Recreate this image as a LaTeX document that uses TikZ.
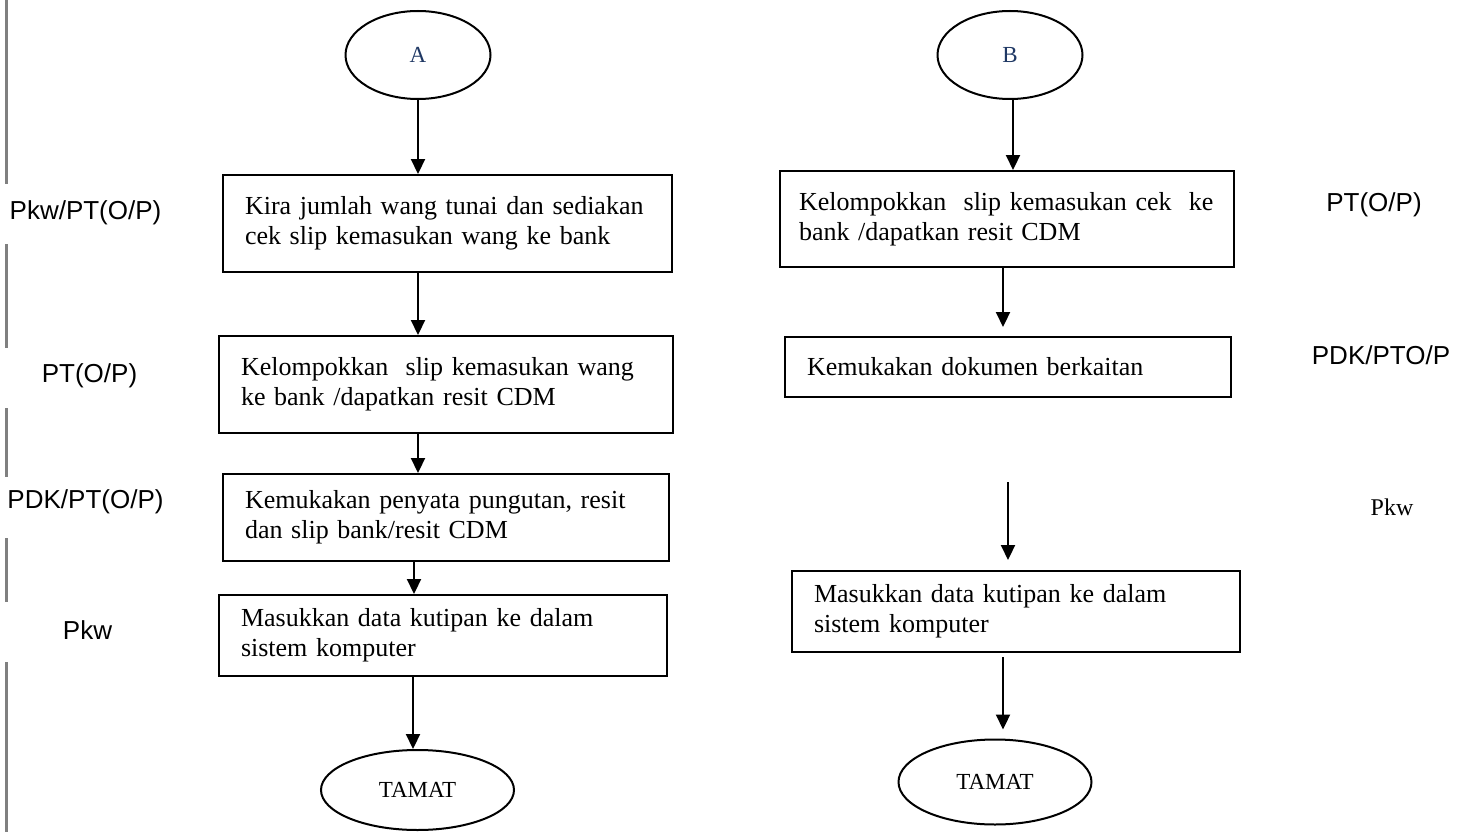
\documentclass[tikz,border=0pt]{standalone}
\usepackage{fontspec}
\setmainfont{Liberation Serif}
\newfontfamily\rolefont{Liberation Sans}
\usetikzlibrary{arrows.meta,shapes.geometric}
\definecolor{sidegray}{RGB}{128,128,128}
\definecolor{letterblue}{RGB}{31,56,100}
\tikzset{
  procbox/.style   = {draw, line width=2pt, rectangle, inner xsep=22pt, inner ysep=0pt, align=left,
                      font=\fontsize{26}{30}\selectfont},
  termoval/.style  = {draw, line width=2pt, ellipse, inner sep=0pt},
  flowarrow/.style = {line width=2.2pt, -{Triangle[width=14pt,length=15pt]}},
  rolelabel/.style = {font=\rolefont\fontsize{26}{30}\selectfont},
  sidebar/.style   = {sidegray, line width=3pt}
}
\begin{document}
\begin{tikzpicture}[x=1pt, y=-1pt]
    \useasboundingbox (0,0) rectangle (1469,832);
    \foreach \ya/\yb in {0/184, 244/348, 408/477, 538/602, 662/832}
        \draw[sidebar] (6.5,\ya) -- (6.5,\yb);

    % lajur A
    \node[termoval, minimum width=145pt, minimum height=88pt, text=letterblue,
          font=\fontsize{23}{27}\selectfont]                        (A)      at (418.0, 55.0) {A};
    \node[procbox, text width=405pt, minimum height=97pt]           (kiraA)  at (447.5,223.5) {Kira jumlah wang tunai dan sediakan\\cek slip kemasukan wang ke bank};
    \node[procbox, text width=410pt, minimum height=97pt]           (kelA)   at (446.0,384.5) {Kelompokkan \ slip kemasukan wang\\ke bank /dapatkan resit CDM};
    \node[procbox, text width=402pt, minimum height=87pt]           (kemA)   at (446.0,517.5) {Kemukakan penyata pungutan, resit\\dan slip bank/resit CDM};
    \node[procbox, text width=404pt, minimum height=81pt]           (masA)   at (443.0,635.5) {Masukkan data kutipan ke dalam\\sistem komputer};
    \node[termoval, minimum width=193pt, minimum height=80pt,
          font=\fontsize{23}{27}\selectfont]                        (tamatA) at (417.5,790.0) {TAMAT};

    \draw[flowarrow] (A) -- (A |- kiraA.north);
    \draw[flowarrow] (kiraA.south -| A) -- (kelA.north -| A);
    \draw[flowarrow] (kelA.south -| A)  -- (kemA.north -| A);
    \draw[flowarrow] ([xshift=-4pt]kemA.south -| A) -- ([xshift=-4pt]masA.north -| A);
    \draw[flowarrow] ([xshift=-5pt]masA.south -| A) -- ([xshift=-5pt]tamatA.north -| A);

    % lajur B
    \node[termoval, minimum width=145pt, minimum height=88pt, text=letterblue,
          font=\fontsize{23}{27}\selectfont]                        (B)      at (1010.0, 55.0) {B};
    \node[procbox, text width=416pt, inner xsep=19pt, minimum height=96pt]
                                                                    (kelB)   at (1007.0,219.0) {Kelompokkan \ slip kemasukan cek \ ke\\bank /dapatkan resit CDM};
    \node[procbox, text width=402pt, minimum height=60pt]           (kemB)   at (1008.0,367.0) {Kemukakan dokumen berkaitan};
    \node[procbox, text width=404pt, minimum height=81pt]           (masB)   at (1016.0,611.5) {Masukkan data kutipan ke dalam\\sistem komputer};
    \node[termoval, minimum width=193pt, minimum height=85pt,
          font=\fontsize{23}{27}\selectfont]                        (tamatB) at (995.0,782.0) {TAMAT};
    \coordinate (gapB) at (1008,482);

    \draw[flowarrow] ([xshift=3pt]B.south) -- ([xshift=3pt]B |- kelB.north);
    \draw[flowarrow, shorten >=9pt] (kelB.south -| 1003,0) -- (kemB.north -| 1003,0);
    \draw[flowarrow, shorten >=10pt] (gapB) -- (gapB |- masB.north);
    \draw[flowarrow, shorten <=4pt, shorten >=9pt] (masB.south -| 1003,0) -- (tamatB.north -| 1003,0);

    % peranan
    \node[rolelabel] (roleKiraA) at (85.5,213) {Pkw/PT(O/P)};
    \node[rolelabel] (roleKelA)  at (89.5,376) {PT(O/P)};
    \node[rolelabel] (roleKemA)  at (85.5,502) {PDK/PT(O/P)};
    \node[rolelabel] (roleMasA)  at (87.5,630) {Pkw};
    \node[rolelabel] (roleKelB)  at (1374,205) {PT(O/P)};
    \node[rolelabel] (roleKemB)  at (1381,355) {PDK/PTO/P};
    \node[font=\fontsize{24}{28}\selectfont] (roleMasB) at (1392,507) {Pkw};
\end{tikzpicture}
\end{document}
